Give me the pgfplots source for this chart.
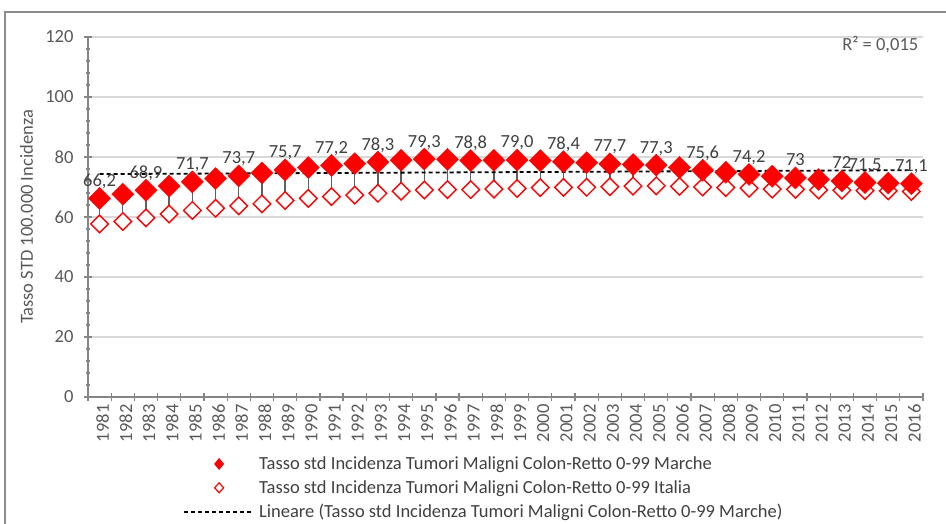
\documentclass[border=0pt]{standalone}
\usepackage{pgfplots}
\pgfplotsset{compat=1.18}
\usepackage{pgfplotstable}
\usepackage{fontspec}
\setmainfont{Carlito}
\definecolor{axgray}{HTML}{868686}
\definecolor{gridgray}{HTML}{D9D9D9}
\definecolor{txtgray}{HTML}{595959}
\definecolor{lblgray}{HTML}{404040}
\definecolor{errgray}{HTML}{606060}
\definecolor{framegray}{HTML}{8C8C8C}
\pgfplotstableread{
year marche italia
1981 66.2 57.7
1982 67.6 58.5
1983 68.9 59.7
1984 70.3 61.0
1985 71.7 62.2
1986 72.8 62.9
1987 73.7 63.7
1988 74.7 64.4
1989 75.7 65.5
1990 76.5 66.2
1991 77.2 66.8
1992 77.8 67.3
1993 78.3 67.9
1994 78.9 68.6
1995 79.3 69.0
1996 79.2 69.1
1997 78.8 69.1
1998 78.9 69.3
1999 79.0 69.5
2000 78.8 69.8
2001 78.4 69.9
2002 78.1 69.9
2003 77.7 70.1
2004 77.5 70.3
2005 77.3 70.4
2006 76.5 70.2
2007 75.6 70.0
2008 74.9 69.8
2009 74.2 69.6
2010 73.6 69.3
2011 73.0 69.2
2012 72.5 69.0
2013 72.0 68.9
2014 71.5 68.8
2015 71.3 68.7
2016 71.1 68.5
}\data
\newcommand{\fs}{\fontsize{18.5bp}{21bp}\selectfont}
\begin{document}
\begin{tikzpicture}[font=\fs]
\path[use as bounding box] (0,0) rectangle (946bp,524bp);
\draw[framegray, line width=1.3bp] (5bp,-20bp) rectangle (960bp,512bp);
\begin{axis}[
  at={(88bp,127bp)}, anchor=south west,
  width=835bp, height=360bp, scale only axis,
  xmin=1980.5, xmax=2016.5, ymin=0, ymax=120,
  axis lines=left, axis line style={-, axgray, line width=1.3bp},
  xtick={1980.5,1981.5,...,2016.5},
  x tick label as interval,
  xticklabels={1981,1982,1983,1984,1985,1986,1987,1988,1989,1990,1991,1992,1993,1994,1995,1996,1997,1998,1999,2000,2001,2002,2003,2004,2005,2006,2007,2008,2009,2010,2011,2012,2013,2014,2015,2016},
  xticklabel style={rotate=90, anchor=east, text=txtgray, font=\fs, yshift=-3bp},
  ytick={0,20,...,120},
  minor y tick num=4,
  yticklabel style={text=txtgray, xshift=-7bp},
  /pgf/number format/assume math mode=true,
  tick style={axgray, line width=1.3bp},
  major tick length=8bp, minor tick length=5bp,
  tick align=center,
  ymajorgrids, major grid style={gridgray, line width=1.3bp},
  ylabel={Tasso STD 100.000 Incidenza},
  ylabel style={at={(axis description cs:-0.0735,0.5)}, anchor=center, text=txtgray},
  clip=false,
  legend style={at={(axis description cs:0.1138,-0.16)}, anchor=north west, draw=none, fill=none, inner sep=0pt, text=lblgray, row sep=5.5bp},
  legend cell align=left,
]
% connecting lines (Marche to Italia)
\addplot[forget plot, draw=none, mark=none,
  error bars/.cd, y dir=minus, y explicit, error mark=none,
  error bar style={errgray, line width=1.4bp}]
  table[x=year, y=marche, y error expr=\thisrow{marche}-\thisrow{italia}] {\data};
% Italia
\addplot[forget plot, only marks, mark=square*, mark size=6.2bp,
  mark options={rotate=45, draw=red, fill=white, line width=1.4bp}]
  table[x=year, y=italia] {\data};
% Marche
\addplot[forget plot, only marks, mark=square*, mark size=7.8bp,
  mark options={rotate=45, draw=red, fill=red}]
  table[x=year, y=marche] {\data};
% labels
\addplot[forget plot, draw=none, mark=none, nodes near coords, point meta=explicit symbolic,
  every node near coord/.append style={anchor=base, yshift=12bp, text=lblgray, font=\fs}]
  coordinates {(1981,66.2) [66,2] (1983,68.9) [68,9] (1985,71.7) [71,7] (1987,73.7) [73,7]
   (1989,75.7) [75,7] (1991,77.2) [77,2] (1993,78.3) [78,3] (1995,79.3) [79,3]
   (1997,78.8) [78,8] (1999,79.0) [79,0] (2001,78.4) [78,4] (2003,77.7) [77,7]
   (2005,77.3) [77,3] (2007,75.6) [75,6] (2009,74.2) [74,2] (2011,73.0) [73]
   (2013,72.0) [72] (2014,71.5) [71,5] (2016,71.1) [71,1]};
% trend
\addplot[forget plot, black, line width=1.8bp, dash pattern=on 4bp off 3bp]
  coordinates {(1981,74.3) (2016,75.6)};
\node[anchor=east, text=txtgray] at (axis description cs:0.9985,0.978) {R² = 0,015};
\addlegendimage{draw=none, legend image code/.code={\path[draw=none] (0,0) -- (73bp,0); \fill[red] (35bp,6bp) -- (40bp,0) -- (35bp,-6bp) -- (30bp,0) -- cycle;}}
\addlegendentry{Tasso std Incidenza Tumori Maligni Colon-Retto 0-99 Marche}
\addlegendimage{draw=none, legend image code/.code={\path[draw=none] (0,0) -- (73bp,0); \draw[red, line width=1.2bp, fill=white] (35bp,5bp) -- (39.5bp,0) -- (35bp,-5bp) -- (30.5bp,0) -- cycle;}}
\addlegendentry{Tasso std Incidenza Tumori Maligni Colon-Retto 0-99 Italia}
\addlegendimage{legend image code/.code={\path[draw=none] (0,0) -- (73bp,0); \draw[black, line width=1.8bp, dash pattern=on 4bp off 3bp] (0,0) -- (67bp,0);}}
\addlegendentry{Lineare (Tasso std Incidenza Tumori Maligni Colon-Retto 0-99 Marche)}
\end{axis}
\end{tikzpicture}
\end{document}
